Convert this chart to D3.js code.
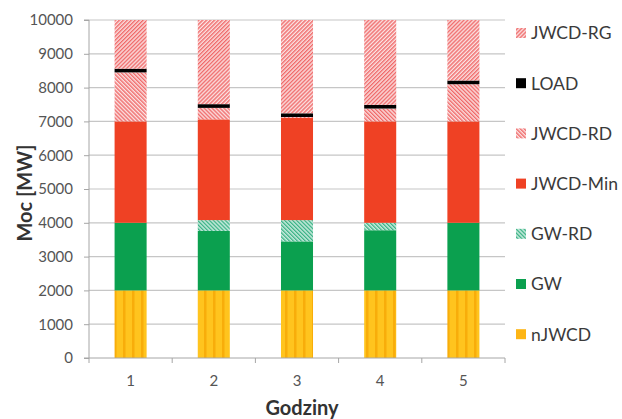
<!DOCTYPE html>
<html><head><meta charset="utf-8">
<script src="https://cdn.jsdelivr.net/npm/d3@7"></script>
<style>body{margin:0;background:#fff}svg{display:block}text{font-family:Lato,"Open Sans",sans-serif}</style>
</head><body>
<svg id="c" width="622" height="419"></svg>
<script>
const categories = ["1","2","3","4","5"];
const seriesNames = ["nJWCD","GW","GW-RD","JWCD-Min","JWCD-RD","LOAD","JWCD-RG"];
const nJWCD   = [2000,2000,2000,2000,2000];
const GW      = [2000,1760,1450,1780,2000];
const GW_RD   = [0,320,630,220,0];
const JWCD_Min= [3000,2980,3020,3000,3000];
const JWCD_RD = [1450,340,30,380,1100];
const LOAD    = [110,110,110,110,110];
const JWCD_RG = [1440,2490,2760,2510,1790];
const yTicks  = [0,1000,2000,3000,4000,5000,6000,7000,8000,9000,10000];
const legendOrder = ["JWCD-RG","LOAD","JWCD-RD","JWCD-Min","GW-RD","GW","nJWCD"];

const valuesBySeries = {"nJWCD":nJWCD,"GW":GW,"GW-RD":GW_RD,"JWCD-Min":JWCD_Min,"JWCD-RD":JWCD_RD,"LOAD":LOAD,"JWCD-RG":JWCD_RG};
const table = categories.map((c,i)=>{const o={cat:c};seriesNames.forEach(s=>o[s]=valuesBySeries[s][i]);return o;});

const svg = d3.select("#c");
const defs = svg.append("defs");
function hatch(id, color, dir, bg){
  const p = defs.append("pattern").attr("id",id).attr("patternUnits","userSpaceOnUse")
    .attr("width",2.8).attr("height",2.8).attr("patternTransform","rotate("+(dir>0?45:-45)+")");
  p.append("rect").attr("width",2.8).attr("height",2.8).attr("fill",bg);
  p.append("rect").attr("width",1.4).attr("height",2.8).attr("fill",color);
}
hatch("pRG","#f06a6a",1,"#fbe3e3");
hatch("pRD","#f06a6a",-1,"#fbe3e3");
hatch("pGWRD","#3db487",-1,"#d5efe5");
const py = defs.append("pattern").attr("id","pY").attr("patternUnits","userSpaceOnUse").attr("width",9).attr("height",10);
py.append("rect").attr("width",9).attr("height",10).attr("fill","#ffc41e");
py.append("rect").attr("x",6).attr("width",2.5).attr("height",10).attr("fill","#f8ad0a");

const fills = {"nJWCD":"url(#pY)","GW":"#0ba04f","GW-RD":"url(#pGWRD)","JWCD-Min":"#ef4124","JWCD-RD":"url(#pRD)","LOAD":"#000","JWCD-RG":"url(#pRG)"};
const legendFills = {"nJWCD":"#fdb515","GW":"#0ba04f","GW-RD":"url(#pGWRD)","JWCD-Min":"#ef4124","JWCD-RD":"url(#pRD)","LOAD":"#000","JWCD-RG":"url(#pRG)"};

const pL=89, pR=505, pT=20, pB=358;
const x = d3.scaleBand().domain(categories).range([pL,pR]).paddingInner(0.615).paddingOuter(0.3075);
const y = d3.scaleLinear().domain([0,10000]).range([pB,pT]);

// gridlines
svg.append("g").selectAll("line").data(yTicks.filter(d=>d>0)).join("line")
  .attr("x1",pL).attr("x2",pR).attr("y1",d=>y(d)).attr("y2",d=>y(d))
  .attr("stroke","#c6c6c6").attr("stroke-width",1.2);

const stack = d3.stack().keys(seriesNames)(table);
svg.append("g").selectAll("g").data(stack).join("g")
  .attr("fill",d=>fills[d.key])
  .selectAll("rect").data(d=>d).join("rect")
  .attr("x",d=>x(d.data.cat)).attr("width",x.bandwidth())
  .attr("y",d=>y(d[1])).attr("height",d=>y(d[0])-y(d[1]));

// y axis
const yAxis = d3.axisLeft(y).tickValues(yTicks).tickSize(5).tickPadding(11).tickFormat(d3.format("d"));
const gy = svg.append("g").attr("transform",`translate(${pL},0)`).call(yAxis);
gy.select(".domain").attr("stroke","#a6a6a6").attr("d",`M-5,${pB}H0V${pT}H-5`);
gy.selectAll(".tick line").attr("stroke","#a6a6a6");
gy.selectAll(".tick text").attr("fill","#555").style("font-size","15px").style("font-family","Lato,sans-serif");

// x axis
const xAxis = d3.axisBottom(x).tickSize(0).tickPadding(17);
const gx = svg.append("g").attr("transform",`translate(0,${pB})`).call(xAxis);
gx.select(".domain").attr("stroke","#a6a6a6").attr("d",`M${pL},0H${pR}`);
gx.selectAll(".tick text").attr("fill","#555").style("font-size","15px").style("font-family","Lato,sans-serif");
const bounds = d3.range(categories.length+1).map(i=>pL+i*(pR-pL)/categories.length);
gx.append("g").selectAll("line").data(bounds).join("line")
  .attr("x1",d=>d).attr("x2",d=>d).attr("y1",0).attr("y2",5).attr("stroke","#a6a6a6");

// titles
svg.append("text").attr("x",302).attr("y",415).attr("text-anchor","middle")
  .attr("fill","#333").style("font-size","20px").style("font-weight","bold").text("Godziny");
svg.append("text").attr("transform",`translate(32,193) rotate(-90)`).attr("text-anchor","middle")
  .attr("fill","#333").style("font-size","20px").style("font-weight","bold").text("Moc [MW]");

// legend
const lg = svg.append("g").selectAll("g").data(legendOrder).join("g")
  .attr("transform",(d,i)=>`translate(516,${33+i*50.2})`);
lg.append("rect").attr("x",0).attr("y",-5).attr("width",10).attr("height",10).attr("fill",d=>legendFills[d]);
lg.append("text").attr("x",15).attr("y",0).attr("dy","0.36em").attr("fill","#3a3a3a")
  .style("font-size","17.5px").text(d=>d);
</script>
</body></html>
